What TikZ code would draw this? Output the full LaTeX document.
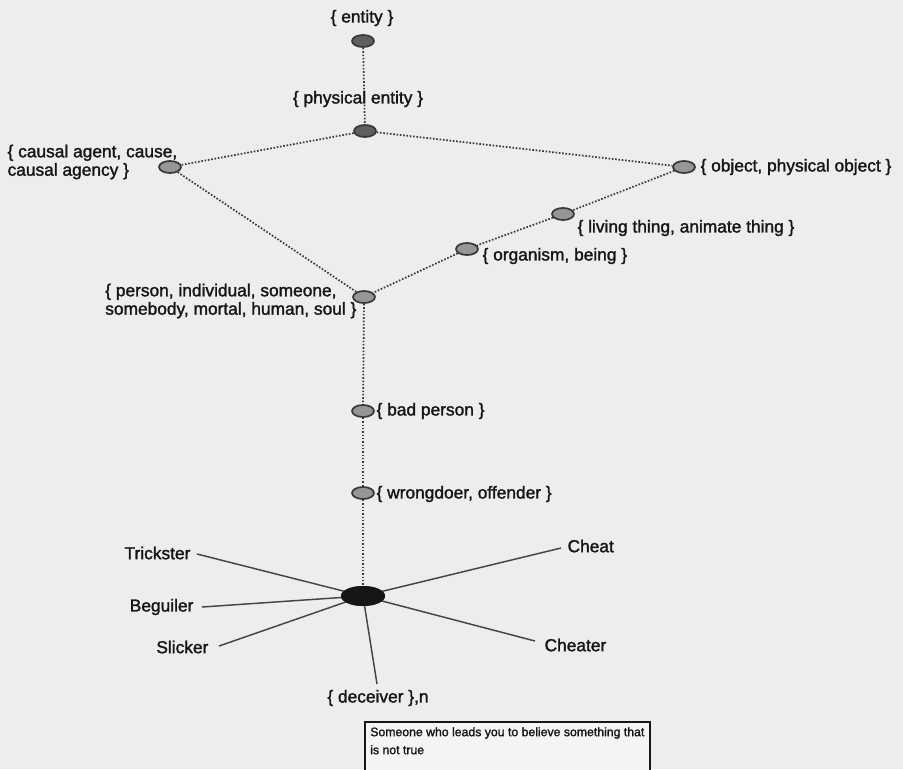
\documentclass[tikz,border=0pt]{standalone}
\usepackage{fontspec}
\setmainfont{Liberation Sans}
\newfontfamily\heavysans{Liberation Sans}[FakeBold=1.6]
\usetikzlibrary{shapes.geometric}
\definecolor{paper}{RGB}{237,237,235}
\definecolor{ink}{RGB}{22,22,22}
\definecolor{synfill}{RGB}{150,150,148}
\definecolor{topfill}{RGB}{95,95,95}
\tikzset{
  synset/.style={ellipse, draw=ink!85, line width=1.3pt, fill=synfill,
    minimum width=16.5pt, minimum height=9pt, inner sep=0pt},
  topsyn/.style={synset, fill=topfill},
  hub/.style={ellipse, fill=ink, minimum width=33pt, minimum height=15pt, inner sep=0pt},
  lbl/.style={font=\heavysans\fontsize{13}{13.8}\selectfont, text=ink, inner sep=1pt},
  hyper/.style={draw=ink!85, line width=1.3pt, dash pattern=on 1.2pt off 1.3pt},
  spoke/.style={draw=ink!80, line width=1.1pt},
  gloss/.style={draw=ink, line width=0.9pt},
  glosstext/.style={font=\heavysans\fontsize{9.2}{13.5}\selectfont, text=ink, inner sep=0pt}
}
\begin{document}
\begin{tikzpicture}[x=0.75pt,y=-0.75pt]
  % page
  \fill[paper] (0,0) rectangle (903,769);
  \useasboundingbox (0,0) rectangle (903,769);

  % synset nodes
  \node[topsyn] (entity) at (363,41) {};
  \node[topsyn] (phys) at (365,131) {};
  \node[synset] (causal) at (170,167) {};
  \node[synset] (object) at (684,167) {};
  \node[synset] (living) at (563,214) {};
  \node[synset] (organism) at (467,249) {};
  \node[synset] (person) at (364,297) {};
  \node[synset] (bad) at (363,411) {};
  \node[synset] (wrong) at (363,493) {};
  \node[hub] (deceiver) at (363,596) {};

  % hypernym links
  \draw[hyper] (entity) -- (phys);
  \draw[hyper] (phys) -- (causal);
  \draw[hyper] (phys) -- (object);
  \draw[hyper] (causal) -- (person);
  \draw[hyper] (object) -- (living);
  \draw[hyper] (living) -- (organism);
  \draw[hyper] (organism) -- (person);
  \draw[hyper] (person) -- (bad);
  \draw[hyper] (bad) -- (wrong);
  \draw[hyper] (wrong) -- (deceiver);

  % synset labels
  \node[lbl] (entityL) at (362,18) {\{ entity \}};
  \node[lbl] (physL) at (358,99) {\{ physical entity \}};
  \node[lbl, align=left, anchor=west] (causalL) at (6,162) {\{ causal agent, cause,\\causal agency \}};
  \node[lbl, anchor=west] (objectL) at (699,167) {\{ object, physical object \}};
  \node[lbl, anchor=west] (livingL) at (576,228) {\{ living thing, animate thing \}};
  \node[lbl, anchor=west] (organismL) at (481,256) {\{ organism, being \}};
  \node[lbl, align=left, anchor=east] (personL) at (358,301) {\{ person, individual, someone,\\somebody, mortal, human, soul \}};
  \node[lbl, anchor=west] (badL) at (375,411) {\{ bad person \}};
  \node[lbl, anchor=west] (wrongL) at (375,494) {\{ wrongdoer, offender \}};

  % synonyms around the selected synset
  \node[lbl, anchor=east] (trick) at (192,553) {Trickster};
  \node[lbl, anchor=east] (beguil) at (195,607) {Beguiler};
  \node[lbl, anchor=east] (slick) at (210,647) {Slicker};
  \node[lbl, anchor=west] (cheat) at (566,546) {Cheat};
  \node[lbl, anchor=west] (cheater) at (543,645) {Cheater};
  \node[lbl] (decL) at (378,698) {\{ deceiver \},n};

  \coordinate (trickE) at (197,554);
  \coordinate (beguilE) at (202,607);
  \coordinate (slickE) at (219,646);
  \coordinate (cheatE) at (561,548);
  \coordinate (cheaterE) at (535,641);
  \coordinate (decE) at (377,684);

  \draw[spoke] (trickE) -- (deceiver.center);
  \draw[spoke] (beguilE) -- (deceiver.center);
  \draw[spoke] (slickE) -- (deceiver.center);
  \draw[spoke] (cheatE) -- (deceiver.center);
  \draw[spoke] (cheaterE) -- (deceiver.center);
  \draw[spoke] (decE) -- (deceiver.center);
  \node[hub] at (deceiver) {};

  % gloss box
  \draw[gloss, fill=paper!60!white] (365,722) rectangle (650,790);
  \node[glosstext, align=left, anchor=north west] (glossT) at (370,727)
    {Someone who leads you to believe something that\\is not true};
\end{tikzpicture}
\end{document}
